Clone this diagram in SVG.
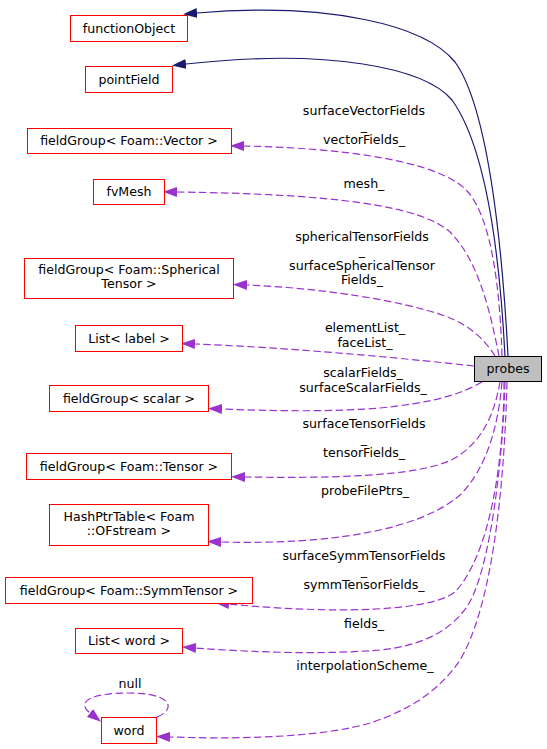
<svg xmlns="http://www.w3.org/2000/svg" width="547" height="749" viewBox="0 0 547 749">
<style>
text{font-family:"DejaVu Sans","Liberation Sans",sans-serif;font-size:12.6px;fill:#000;text-anchor:middle}
.n rect{fill:#fff;stroke:#ff0000;stroke-width:1}
.p rect{fill:#bfbfbf;stroke:#000;stroke-width:1}
.b{fill:none;stroke:#191970;stroke-width:1.2}
.d{fill:none;stroke:#9a32cd;stroke-width:1.2;stroke-dasharray:7.5,3.5}
.bm{marker-end:url(#ab)}
.dm{marker-end:url(#ad)}
</style>
<defs>
<marker id="ab" viewBox="0 0 14 10" refX="0" refY="5" markerWidth="14" markerHeight="10" markerUnits="userSpaceOnUse" orient="auto"><path d="M0,0 L14,5 L0,10 z" fill="#191970"/></marker>
<marker id="ad" viewBox="0 0 14 10" refX="0" refY="5" markerWidth="14" markerHeight="10" markerUnits="userSpaceOnUse" orient="auto"><path d="M0,0 L14,5 L0,10 z" fill="#9a32cd"/></marker>
</defs>
<g id="edges">
<path class="b bm" d="M508,356 C503,260 490,110 455,62 C425,25 330,2 197,13"/>
<path class="b bm" d="M505,356 C500,260 488,150 452,100 C425,68 330,48 186,64"/>
<path class="d dm" d="M502,356 C500,290 492,220 468,192 C440,160 340,148 244,146"/>
<path class="d dm" d="M499,356 C490,310 478,260 450,232 C420,205 330,194 177,192"/>
<path class="d dm" d="M495,356 C485,340 470,325 445,316 C400,300 320,288 247,285"/>
<path class="d dm" d="M474,366 C420,360 300,348 195,344"/>
<path class="d dm" d="M482,382 C460,395 430,403 380,408 C330,412 270,411 222,409"/>
<path class="d dm" d="M500,382 C495,410 485,440 455,458 C420,478 320,478 245,477"/>
<path class="d dm" d="M502,382 C498,430 485,470 460,495 C420,530 330,545 221,542"/>
<path class="d dm" d="M504,382 C504,460 490,555 455,592 C430,612 330,614 229,604"/>
<path class="d dm" d="M505,382 C503,460 490,570 468,605 C455,625 430,645 380,650 C320,655 250,652 196,648"/>
<path class="d dm" d="M507,382 C504,500 490,610 460,660 C440,690 410,710 370,723 C330,735 260,740 170,737"/>
<path class="d dm" d="M157,717 C175,710 175,693 128,693 C90,693 76,702 90,713"/>
<text x="364" y="115">surfaceVectorFields</text>
<text x="364" y="129.5">_</text>
<text x="364" y="144">vectorFields_</text>
<text x="364" y="188">mesh_</text>
<text x="362" y="240.5">sphericalTensorFields</text>
<text x="362" y="255">_</text>
<text x="362" y="269.5">surfaceSphericalTensor</text>
<text x="362" y="284">Fields_</text>
<text x="365" y="332">elementList_</text>
<text x="365" y="346.5">faceList_</text>
<text x="363" y="377">scalarFields_</text>
<text x="363" y="391.5">surfaceScalarFields_</text>
<text x="364" y="428">surfaceTensorFields</text>
<text x="364" y="442.5">_</text>
<text x="364" y="457">tensorFields_</text>
<text x="365" y="495">probeFilePtrs_</text>
<text x="364" y="560">surfaceSymmTensorFields</text>
<text x="364" y="574.5">_</text>
<text x="364" y="589">symmTensorFields_</text>
<text x="364" y="628">fields_</text>
<text x="365" y="670">interpolationScheme_</text>
<text x="130" y="688">null</text>
</g>
<g id="probes" class="p"><rect x="474.5" y="356.5" width="67" height="25"/><text x="508" y="373">probes</text></g>
<g id="functionObject" class="n"><rect x="70.5" y="15.5" width="117" height="26"/><text x="129" y="32.5">functionObject</text></g>
<g id="pointField" class="n"><rect x="85.5" y="66.5" width="87" height="26"/><text x="129" y="83.5">pointField</text></g>
<g id="fgVector" class="n"><rect x="27.5" y="128.5" width="204" height="25"/><text x="129" y="145">fieldGroup&lt; Foam::Vector &gt;</text></g>
<g id="fvMesh" class="n"><rect x="93.5" y="179.5" width="71" height="25"/><text x="129" y="196">fvMesh</text></g>
<g id="fgSpherical" class="n"><rect x="24.5" y="258.5" width="209" height="40"/><text x="129" y="274">fieldGroup&lt; Foam::Spherical</text><text x="129" y="288">Tensor &gt;</text></g>
<g id="listLabel" class="n"><rect x="75.5" y="325.5" width="107" height="26"/><text x="129" y="342.5">List&lt; label &gt;</text></g>
<g id="fgScalar" class="n"><rect x="49.5" y="385.5" width="159" height="26"/><text x="129" y="402.5">fieldGroup&lt; scalar &gt;</text></g>
<g id="fgTensor" class="n"><rect x="26.5" y="453.5" width="205" height="26"/><text x="129" y="470.5">fieldGroup&lt; Foam::Tensor &gt;</text></g>
<g id="hashPtrTable" class="n"><rect x="49.5" y="504.5" width="159" height="41"/><text x="129" y="520.5">HashPtrTable&lt; Foam</text><text x="129" y="534.5">::OFstream &gt;</text></g>
<g id="fgSymmTensor" class="n"><rect x="5.5" y="577.5" width="247" height="26"/><text x="129" y="594.5">fieldGroup&lt; Foam::SymmTensor &gt;</text></g>
<g id="listWord" class="n"><rect x="75.5" y="628.5" width="107" height="25"/><text x="129" y="645">List&lt; word &gt;</text></g>
<g id="word" class="n"><rect x="101.5" y="717.5" width="55" height="26"/><text x="129" y="734.5">word</text></g>
</svg>
